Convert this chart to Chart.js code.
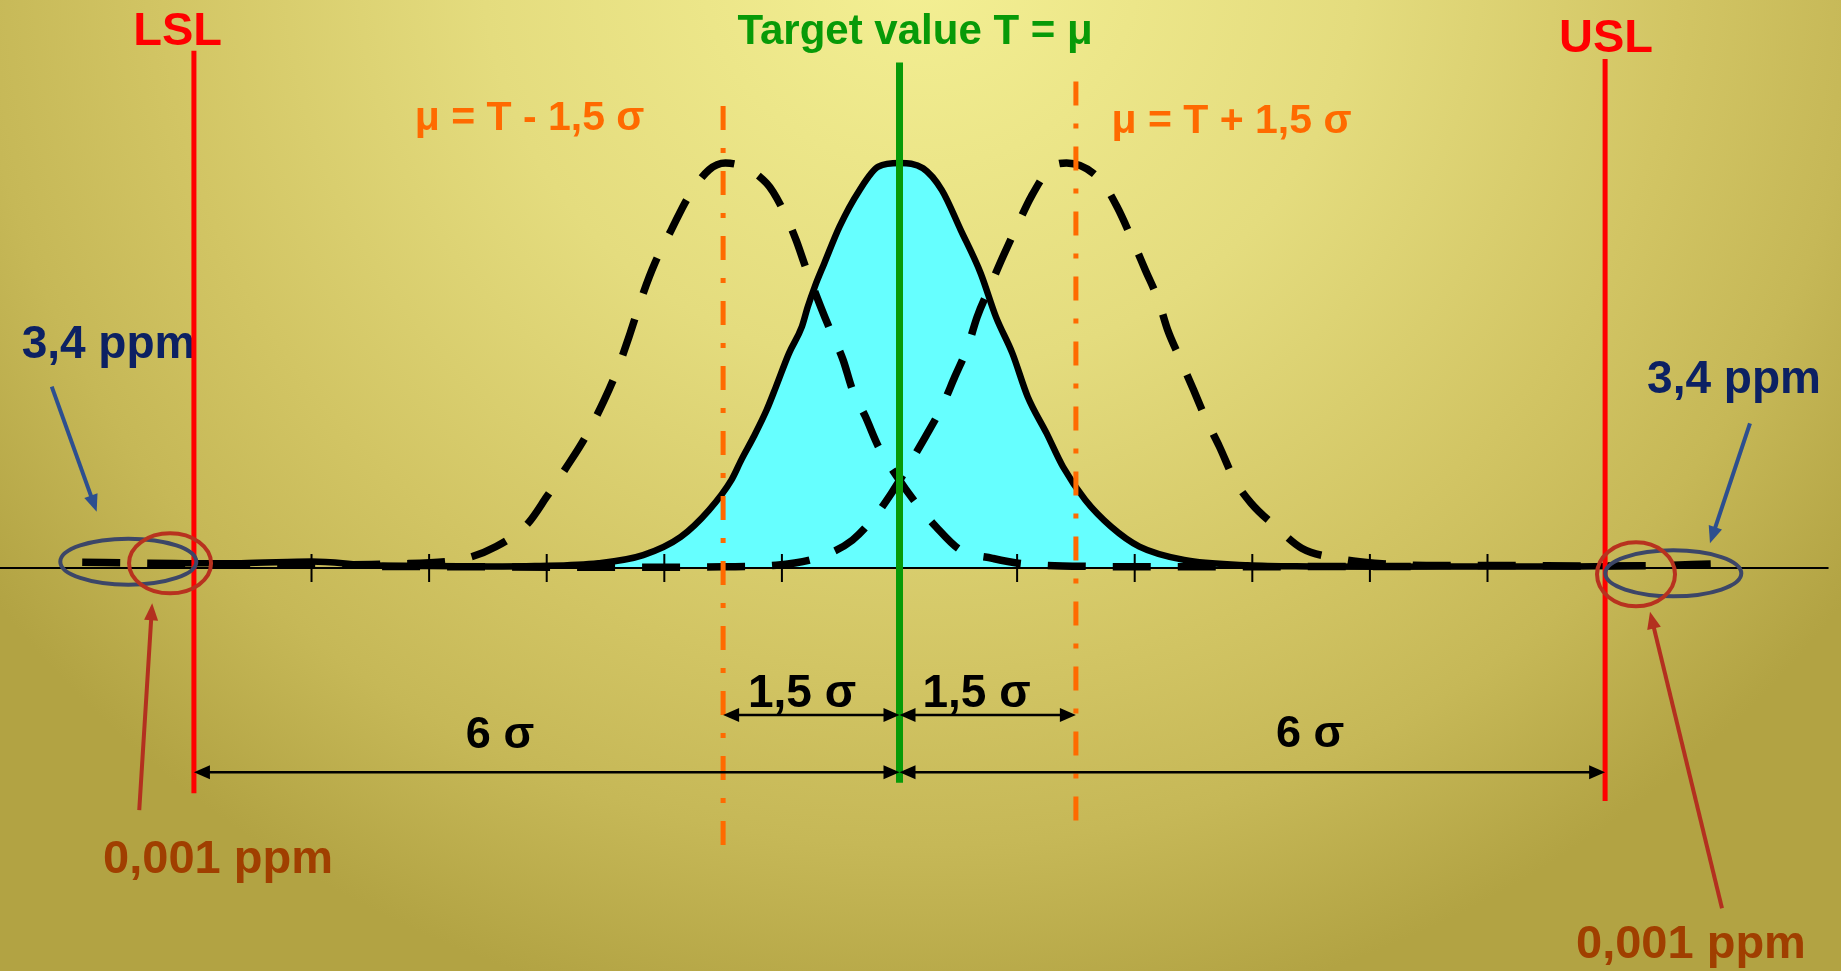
<!DOCTYPE html>
<html>
<head>
<meta charset="utf-8">
<title>Six Sigma – 1,5 σ shift</title>
<script src="https://cdn.jsdelivr.net/npm/chart.js"></script>
<style>
  html, body { margin: 0; padding: 0; overflow: hidden; }
  body {
    width: 1841px;
    height: 971px;
    background: radial-gradient(ellipse 1150px 1080px at 920px -40px,
      #f4f094 0%, #e4dc7e 38%, #d2c564 66%, #c6b857 82%, #b2a343 100%);
  }
  canvas { display: block; }
</style>
</head>
<body>
<canvas id="sigmaChart" width="1841" height="971"></canvas>

<script>
  // x values are in sigma units around the target, y is height relative to the curve peak
  const target = 0;
  const specLimits = [-6, 6];          // LSL, USL
  const shiftedMeans = [-1.5, 1.5];    // mu = T - 1,5 sigma / mu = T + 1,5 sigma
  const sigmaTicks = [-6, -5, -4, -3, -2, -1, 0, 1, 2, 3, 4, 5, 6];

  // process centred on the target (solid, filled)
  const centeredX = [-6.23, -5.6, -5.0, -4.5, -4.0, -3.5, -3.1, -2.56, -2.18, -1.86, -1.62,
    -1.43, -1.345, -1.24, -1.13, -1.05, -0.94, -0.83, -0.78, -0.72, -0.64, -0.51, -0.34, -0.18,
    0, 0.20, 0.36, 0.52, 0.69, 0.82, 0.96, 1.09, 1.25, 1.39, 1.58, 1.80, 2.04, 2.42, 2.96,
    3.5, 4.2, 5.0, 5.6, 6.3];
  const centeredY = [0.012, 0.012, 0.016, 0.007, 0.005, 0.004, 0.005, 0.012, 0.032, 0.077, 0.143,
    0.217, 0.267, 0.324, 0.390, 0.448, 0.530, 0.596, 0.645, 0.695, 0.752, 0.843, 0.933, 0.991,
    1.0, 0.987, 0.933, 0.835, 0.728, 0.620, 0.530, 0.423, 0.333, 0.250, 0.168, 0.102, 0.053, 0.020, 0.007,
    0.004, 0.003, 0.004, 0.004, 0.006];

  // process shifted by -1,5 sigma (dashed)
  const shiftedLeftX = [-6.95, -6.4, -5.9, -5.3, -4.8, -4.3, -3.75, -3.43, -3.16, -3.0, -2.83,
    -2.67, -2.51, -2.40, -2.29, -2.18, -2.08, -1.94, -1.80, -1.62, -1.48, -1.13, -0.99, -0.88,
    -0.80, -0.67, -0.59, -0.48, -0.40, -0.29, -0.18, -0.02, 0.12, 0.31, 0.52, 0.79, 1.01,
    1.6, 2.3, 3.0, 3.8, 4.5];
  const shiftedLeftY = [0.014, 0.012, 0.010, 0.008, 0.008, 0.010, 0.020, 0.053, 0.110, 0.176, 0.250,
    0.324, 0.415, 0.489, 0.580, 0.678, 0.753, 0.835, 0.914, 0.983, 1.0, 0.950, 0.884, 0.810,
    0.744, 0.645, 0.588, 0.514, 0.440, 0.374, 0.300, 0.225, 0.168, 0.102, 0.044, 0.024, 0.012,
    0.004, 0.003, 0.003, 0.004, 0.004];

  // process shifted by +1,5 sigma (dashed)
  const shiftedRightX = [-4.4, -3.6, -2.8, -2.0, -1.5, -1.05, -0.67, -0.40, -0.21, -0.07, 0.09,
    0.22, 0.36, 0.47, 0.58, 0.66, 0.77, 0.88, 1.01, 1.12, 1.28, 1.42, 1.71, 1.85, 1.98, 2.09,
    2.20, 2.28, 2.39, 2.50, 2.61, 2.72, 2.85, 2.99, 3.20, 3.42, 3.72, 4.04, 4.6, 5.2, 5.8, 6.4, 6.92];
  const shiftedRightY = [0.004, 0.003, 0.002, 0.002, 0.003, 0.007, 0.028, 0.069, 0.127, 0.184, 0.259,
    0.324, 0.398, 0.472, 0.546, 0.620, 0.695, 0.769, 0.851, 0.917, 0.987, 1.0, 0.958, 0.892, 0.810, 0.736,
    0.662, 0.588, 0.514, 0.440, 0.365, 0.300, 0.217, 0.160, 0.102, 0.049, 0.024, 0.012, 0.006, 0.006,
    0.005, 0.006, 0.010];

  const pts = (xs, ys) => xs.map((x, i) => ({ x, y: ys[i] }));
  const vline = (x, top, bottom) => [{ x, y: top }, { x, y: bottom }];

  const FONT = '"Liberation Sans", Arial, Helvetica, sans-serif';
  const NAVY = '#0c2163';
  const BROWN = '#a03f00';
  const ORANGE = '#ff6a00';

  // labels drawn underneath the curves and limit lines
  const backTexts = [
    { text: '3,4 ppm', x: -6.726, y: 0.518, color: NAVY, size: 46 },
    { text: '3,4 ppm', x: 7.096, y: 0.431, color: NAVY, size: 46 }
  ];

  const frontTexts = [
    { text: 'LSL', x: -6.139, y: 1.291, color: '#ff0000', size: 47 },
    { text: 'USL', x: 6.008, y: 1.274, color: '#ff0000', size: 47 },
    { text: 'Target value T = μ', x: 0.132, y: 1.294, color: '#089a08', size: 42 },
    { text: 'μ = T - 1,5 σ', x: -3.146, y: 1.0815, color: ORANGE, size: 41 },
    { text: 'μ = T + 1,5 σ', x: 2.823, y: 1.074, color: ORANGE, size: 41 },
    { text: '1,5 σ', x: -0.829, y: -0.3425, color: '#000', size: 46 },
    { text: '1,5 σ', x: 0.655, y: -0.3425, color: '#000', size: 46 },
    { text: '6 σ', x: -3.397, y: -0.444, color: '#000', size: 45 },
    { text: '6 σ', x: 3.491, y: -0.441, color: '#000', size: 45 },
    { text: '0,001 ppm', x: -5.795, y: -0.752, color: BROWN, size: 47 },
    { text: '0,001 ppm', x: 6.730, y: -0.964, color: BROWN, size: 47 }
  ];

  // double headed dimension arrows
  const spans = [
    { from: shiftedMeans[0], to: target, y: -0.363 },
    { from: target, to: shiftedMeans[1], y: -0.363 },
    { from: specLimits[0], to: target, y: -0.504 },
    { from: target, to: specLimits[1], y: -0.504 }
  ];

  // ellipses round the tails
  const rings = [
    { x: -6.558, y: 0.0156, rx: 68, ry: 23, color: '#3c4668' },
    { x: 6.580, y: -0.0131, rx: 68, ry: 23, color: '#3c4668' },
    { x: -6.203, y: 0.0116, rx: 41, ry: 30, color: '#b8321f' },
    { x: 6.263, y: -0.0156, rx: 39, ry: 32, color: '#b8321f' }
  ];

  // pointer arrows from the ppm labels to the tails
  const pointers = [
    { x1: -7.209, y1: 0.448, x2: -6.827, y2: 0.139, color: '#2d4f8f' },
    { x1: 7.232, y1: 0.357, x2: 6.892, y2: 0.061, color: '#2d4f8f' },
    { x1: -6.465, y1: -0.5975, x2: -6.355, y2: -0.0872, color: '#b3301f' },
    { x1: 6.994, y1: -0.840, x2: 6.382, y2: -0.108, color: '#b3301f' }
  ];

  function head(ctx, x, y, angle, len, half) {
    ctx.beginPath();
    ctx.moveTo(x, y);
    ctx.lineTo(x - len * Math.cos(angle) + half * Math.sin(angle), y - len * Math.sin(angle) - half * Math.cos(angle));
    ctx.lineTo(x - len * Math.cos(angle) - half * Math.sin(angle), y - len * Math.sin(angle) + half * Math.cos(angle));
    ctx.closePath();
    ctx.fill();
  }

  function drawTexts(chart, list) {
    const { ctx, scales: { x, y } } = chart;
    ctx.save();
    ctx.textAlign = 'center';
    ctx.textBaseline = 'alphabetic';
    list.forEach(t => {
      ctx.font = `bold ${t.size}px ${FONT}`;
      ctx.fillStyle = t.color;
      ctx.fillText(t.text, x.getPixelForValue(t.x), y.getPixelForValue(t.y));
    });
    ctx.restore();
  }

  const annotate = {
    id: 'annotate',
    beforeDatasetsDraw(chart) {
      drawTexts(chart, backTexts);
    },
    afterDatasetsDraw(chart) {
      const { ctx, scales: { x, y } } = chart;
      ctx.save();

      // dimension arrows
      ctx.strokeStyle = '#000';
      ctx.fillStyle = '#000';
      ctx.lineWidth = 2.5;
      spans.forEach(s => {
        const a = x.getPixelForValue(s.from);
        const b = x.getPixelForValue(s.to);
        const py = y.getPixelForValue(s.y);
        ctx.beginPath();
        ctx.moveTo(a + 10, py);
        ctx.lineTo(b - 10, py);
        ctx.stroke();
        head(ctx, a, py, Math.PI, 16, 7);
        head(ctx, b, py, 0, 16, 7);
      });

      // rings
      rings.forEach(r => {
        ctx.strokeStyle = r.color;
        ctx.lineWidth = 4;
        ctx.beginPath();
        ctx.ellipse(x.getPixelForValue(r.x), y.getPixelForValue(r.y), r.rx, r.ry, 0, 0, Math.PI * 2);
        ctx.stroke();
      });

      // pointers
      pointers.forEach(p => {
        const x1 = x.getPixelForValue(p.x1), y1 = y.getPixelForValue(p.y1);
        const x2 = x.getPixelForValue(p.x2), y2 = y.getPixelForValue(p.y2);
        const ang = Math.atan2(y2 - y1, x2 - x1);
        ctx.strokeStyle = p.color;
        ctx.fillStyle = p.color;
        ctx.lineWidth = 4;
        ctx.beginPath();
        ctx.moveTo(x1, y1);
        ctx.lineTo(x2 - 12 * Math.cos(ang), y2 - 12 * Math.sin(ang));
        ctx.stroke();
        head(ctx, x2, y2, ang, 17, 7);
      });

      ctx.restore();
      drawTexts(chart, frontTexts);
    }
  };

  const hump = pts(centeredX, centeredY).filter(p => Math.abs(p.x) < 3.2);

  new Chart(document.getElementById('sigmaChart'), {
    type: 'line',
    data: {
      datasets: [
        { data: vline(target, 1.248, -0.530), borderColor: '#089a08', borderWidth: 7 },
        { data: vline(specLimits[0], 1.277, -0.556), borderColor: '#ff0000', borderWidth: 5 },
        { data: vline(specLimits[1], 1.257, -0.575), borderColor: '#ff0000', borderWidth: 5 },
        { data: vline(shiftedMeans[0], 1.141, -0.684), borderColor: ORANGE, borderWidth: 5, borderDash: [24, 18, 5, 18] },
        { data: vline(shiftedMeans[1], 1.201, -0.626), borderColor: ORANGE, borderWidth: 5, borderDash: [24, 18, 5, 18] },
        {
          data: pts(centeredX, centeredY), borderColor: '#000', borderWidth: 6.5,
          cubicInterpolationMode: 'monotone', borderJoinStyle: 'round'
        },
        {
          data: pts(shiftedLeftX, shiftedLeftY), borderColor: '#000', borderWidth: 7.5,
          borderDash: [38, 27], cubicInterpolationMode: 'monotone'
        },
        {
          data: pts(shiftedRightX, shiftedRightY), borderColor: '#000', borderWidth: 7.5,
          borderDash: [38, 27], cubicInterpolationMode: 'monotone'
        },
        {
          data: sigmaTicks.map(v => ({ x: v, y: 0 })), showLine: false,
          pointStyle: 'line', pointRadius: 14, pointRotation: 90,
          pointBorderWidth: 2, pointBorderColor: '#000'
        },
        { data: [{ x: -7.65, y: 0 }, { x: 7.9, y: 0 }], borderColor: '#000', borderWidth: 2 },
        {
          data: hump, fill: 'origin', backgroundColor: '#66ffff',
          borderColor: 'rgba(0,0,0,0)', borderWidth: 1, cubicInterpolationMode: 'monotone'
        }
      ]
    },
    options: {
      responsive: false,
      animation: false,
      events: [],
      layout: { padding: 0, autoPadding: false },
      elements: {
        point: { radius: 0, hoverRadius: 0 },
        line: { tension: 0, fill: false, borderCapStyle: 'butt' }
      },
      plugins: {
        legend: { display: false },
        tooltip: { enabled: false }
      },
      scales: {
        x: { type: 'linear', display: false, min: -7.649, max: 8.006 },
        y: { type: 'linear', display: false, min: -0.995, max: 1.4025 }
      }
    },
    plugins: [annotate]
  });
</script>
</body>
</html>
